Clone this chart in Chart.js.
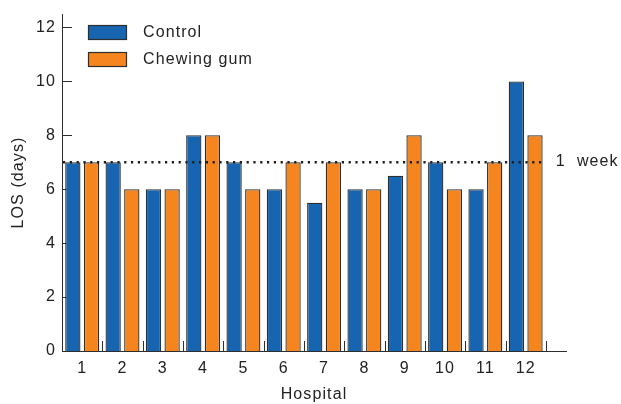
<!DOCTYPE html>
<html>
<head>
<meta charset="utf-8">
<script src="https://cdn.jsdelivr.net/npm/chart.js@4.4.1/dist/chart.umd.min.js"></script>
<style>
  html, body { margin: 0; padding: 0; background: #fff; }
  #wrap { width: 621px; height: 404px; }
</style>
</head>
<body>
<div id="wrap"><canvas id="losChart" width="621" height="404"></canvas></div>
<script>
// --- data ---
const hospitals = [1, 2, 3, 4, 5, 6, 7, 8, 9, 10, 11, 12];
const control = [7, 7, 6, 8, 7, 6, 5.5, 6, 6.5, 7, 6, 10];
const chewingGum = [7, 6, 6, 8, 6, 7, 7, 6, 8, 6, 7, 8];
const yTicks = [0, 2, 4, 6, 8, 10, 12];
const oneWeek = 7;

const BLUE = "#1764b0";
const ORANGE = "#f5861f";
const EDGE = "#2e2e2e";
const INK = "#222222";
const FONT = "'Liberation Sans', Arial, sans-serif";
const SPACING = "1.1px";

// wider letter spacing, like the original typeface
const spacing = {
    id: "spacing",
    beforeUpdate(chart) { chart.ctx.letterSpacing = SPACING; },
    beforeDraw(chart) { chart.ctx.letterSpacing = SPACING; }
};

// axis tick marks (inward), drawn before bars so the bars cover them
const tickMarks = {
    id: "tickMarks",
    beforeDatasetsDraw(chart) {
        const { ctx, chartArea, scales } = chart;
        ctx.save();
        ctx.strokeStyle = EDGE;
        ctx.lineWidth = 1;
        ctx.beginPath();
        yTicks.forEach(v => {
            const y = Math.round(scales.y.getPixelForValue(v)) + 0.5;
            ctx.moveTo(chartArea.left, y);
            ctx.lineTo(chartArea.left + 10, y);
        });
        hospitals.forEach(h => {
            const x = Math.round(scales.x.getPixelForValue(h + 0.5)) + 0.5;
            ctx.moveTo(x, chartArea.bottom);
            ctx.lineTo(x, chartArea.bottom - 10);
        });
        ctx.stroke();
        ctx.restore();
    }
};

// dotted "1 week" reference line and in-plot legend
const overlay = {
    id: "overlay",
    afterDatasetsDraw(chart) {
        const { ctx, chartArea, scales } = chart;
        const y = scales.y.getPixelForValue(oneWeek);
        const x0 = scales.x.getPixelForValue(0.5);
        const x1 = scales.x.getPixelForValue(12.5);
        ctx.save();
        ctx.strokeStyle = "#1e1e1e";
        ctx.lineWidth = 2.4;
        ctx.setLineDash([2.2, 4.6]);
        ctx.beginPath();
        ctx.moveTo(x0 + 1, y);
        ctx.lineTo(x1, y);
        ctx.stroke();
        ctx.setLineDash([]);

        ctx.letterSpacing = SPACING;
        ctx.fillStyle = INK;
        ctx.font = "16px " + FONT;
        ctx.textBaseline = "middle";
        ctx.fillText("1  week", x1 + 10, y - 1);

        // legend
        const items = [["Control", BLUE], ["Chewing gum", ORANGE]];
        items.forEach((it, i) => {
            const bx = chartArea.left + 26;
            const by = chartArea.top + 11 + i * 27;
            ctx.fillStyle = it[1];
            ctx.fillRect(bx, by, 39, 15);
            ctx.strokeStyle = EDGE;
            ctx.lineWidth = 1.2;
            ctx.strokeRect(bx + 0.5, by + 0.5, 38, 14);
            ctx.fillStyle = INK;
            ctx.fillText(it[0], bx + 55, by + 8);
        });
        ctx.restore();
    }
};

const ctx = document.getElementById("losChart").getContext("2d");
const losChart = new Chart(ctx, {
    type: "bar",
    data: {
        datasets: [{
            label: "Control",
            data: hospitals.map((h, i) => ({ x: h, y: control[i] })),
            backgroundColor: BLUE,
            borderColor: EDGE,
            borderWidth: 1.3,
            borderSkipped: "bottom",
            barPercentage: 0.82,
            categoryPercentage: 0.925
        }, {
            label: "Chewing gum",
            data: hospitals.map((h, i) => ({ x: h, y: chewingGum[i] })),
            backgroundColor: ORANGE,
            borderColor: EDGE,
            borderWidth: 1.3,
            borderSkipped: "bottom",
            barPercentage: 0.82,
            categoryPercentage: 0.925
        }]
    },
    options: {
        responsive: false,
        animation: false,
        layout: { padding: { top: 14, right: 55, left: 0, bottom: 0 } },
        plugins: {
            legend: { display: false },
            tooltip: { enabled: false }
        },
        scales: {
            x: {
                type: "linear",
                min: 0.5,
                max: 13,
                offset: false,
                grid: { display: false },
                border: { display: true, color: EDGE, width: 1 },
                afterBuildTicks: s => { s.ticks = hospitals.map(v => ({ value: v })); },
                afterFit: s => { s.height = 53; },
                ticks: {
                    color: INK,
                    font: { size: 16, family: FONT },
                    padding: 0,
                    maxRotation: 0,
                    autoSkip: false
                },
                title: {
                    display: true,
                    text: "Hospital",
                    color: INK,
                    font: { size: 16, family: FONT },
                    padding: { top: 5, bottom: 0 }
                }
            },
            y: {
                min: 0,
                max: 12.5,
                grid: { display: false },
                border: { display: true, color: EDGE, width: 1 },
                afterBuildTicks: s => { s.ticks = yTicks.map(v => ({ value: v })); },
                afterFit: s => { s.width = 62; },
                ticks: {
                    color: INK,
                    font: { size: 16, family: FONT },
                    padding: -2
                },
                title: {
                    display: true,
                    text: "LOS (days)",
                    color: INK,
                    font: { size: 16, family: FONT },
                    padding: { top: 9, bottom: 0 }
                }
            }
        }
    },
    plugins: [spacing, tickMarks, overlay]
});
</script>
</body>
</html>
